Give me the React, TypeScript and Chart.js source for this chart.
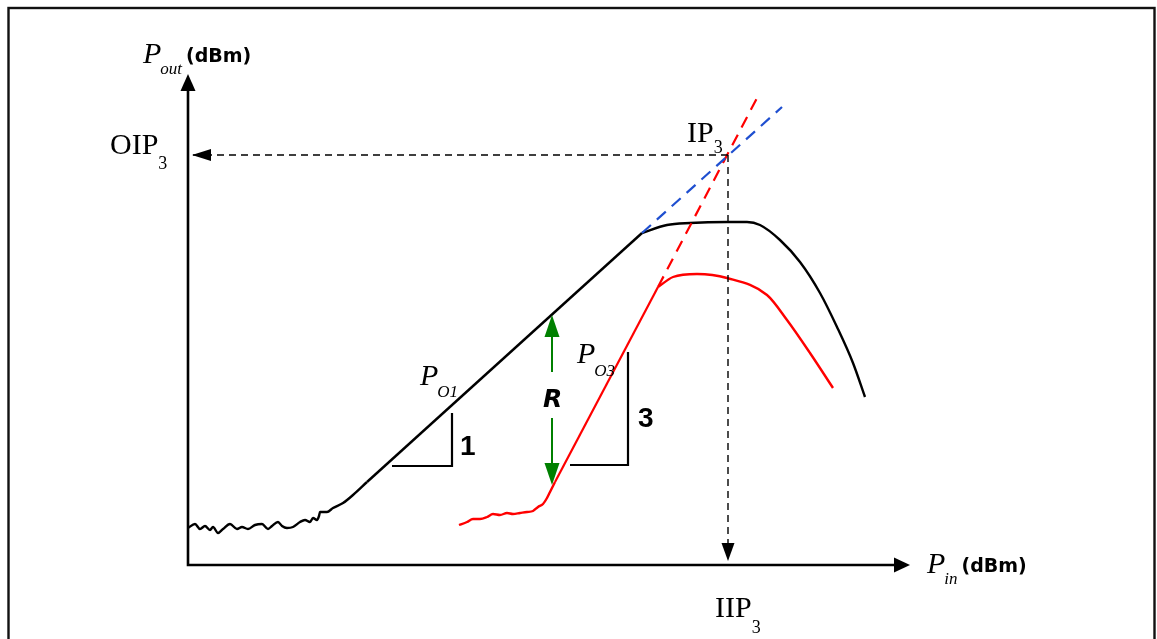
import React, { useEffect, useRef } from "react";
import { Chart, registerables } from "chart.js";

Chart.register(...registerables);

type Pt = { x: number; y: number };

const WIDTH = 1157;
const HEIGHT = 639;

// Input power (x) and output power (y), in dBm relative to the axis origin.
const X_RANGE = [-18.8, 96.9];
const Y_RANGE = [-7.4, 56.5];
const X_AXIS_END = 72.2;
const Y_AXIS_END = 49.1;

// Fundamental output P_O1: noise floor, linear region (slope 1), compression
const fundNoise: Pt[] = [
  { x: 0, y: 3.7 }, { x: 0.7, y: 4.1 }, { x: 1.2, y: 3.6 }, { x: 1.7, y: 3.9 },
  { x: 2.2, y: 3.5 }, { x: 2.5, y: 3.8 }, { x: 3.0, y: 3.2 }, { x: 3.5, y: 3.6 },
  { x: 4.2, y: 4.1 }, { x: 4.9, y: 3.6 }, { x: 5.4, y: 3.8 }, { x: 6.0, y: 3.6 },
  { x: 6.7, y: 4.0 }, { x: 7.4, y: 4.1 }, { x: 8.0, y: 3.6 }, { x: 8.4, y: 3.9 },
  { x: 9.0, y: 4.3 }, { x: 9.4, y: 3.9 }, { x: 9.9, y: 3.7 }, { x: 10.5, y: 3.8 },
  { x: 11.2, y: 4.3 }, { x: 11.7, y: 4.5 }, { x: 12.2, y: 4.3 }, { x: 12.5, y: 4.7 },
  { x: 12.9, y: 4.5 }, { x: 13.1, y: 4.9 }, { x: 13.2, y: 5.3 }, { x: 13.9, y: 5.3 },
  { x: 14.5, y: 5.7 }, { x: 15.5, y: 6.2 }, { x: 16.5, y: 7.0 }, { x: 17.9, y: 8.3 },
];
const fundLinear: Pt[] = [{ x: 17.9, y: 8.3 }, { x: 45.4, y: 33.2 }];
const fundCompressed: Pt[] = [
  { x: 45.4, y: 33.2 }, { x: 47.9, y: 34.0 }, { x: 50.2, y: 34.2 }, { x: 53.9, y: 34.3 },
  { x: 55.9, y: 34.3 }, { x: 57.2, y: 34.0 }, { x: 59.2, y: 32.5 }, { x: 61.2, y: 30.3 },
  { x: 63.2, y: 27.2 }, { x: 64.9, y: 23.8 }, { x: 66.5, y: 20.2 }, { x: 67.7, y: 16.8 },
];
const fundExtrapolated: Pt[] = [{ x: 45.4, y: 33.2 }, { x: 59.4, y: 45.8 }];

// Third-order intermodulation output P_O3 (slope 3)
const im3Noise: Pt[] = [
  { x: 27.1, y: 4.0 }, { x: 27.9, y: 4.3 }, { x: 28.5, y: 4.6 }, { x: 29.2, y: 4.6 },
  { x: 29.9, y: 4.8 }, { x: 30.5, y: 5.1 }, { x: 31.2, y: 5.0 }, { x: 31.9, y: 5.2 },
  { x: 32.5, y: 5.1 }, { x: 33.2, y: 5.2 }, { x: 33.9, y: 5.3 }, { x: 34.5, y: 5.4 },
  { x: 35.0, y: 5.8 }, { x: 35.5, y: 6.1 }, { x: 35.9, y: 6.7 }, { x: 36.2, y: 7.3 },
  { x: 36.7, y: 8.3 },
];
const im3Linear: Pt[] = [{ x: 36.7, y: 8.3 }, { x: 47.0, y: 27.8 }];
const im3Compressed: Pt[] = [
  { x: 47.0, y: 27.8 }, { x: 48.5, y: 28.8 }, { x: 50.9, y: 29.1 }, { x: 53.9, y: 28.7 },
  { x: 57.9, y: 27.0 }, { x: 59.9, y: 24.5 }, { x: 62.2, y: 21.2 }, { x: 64.5, y: 17.7 },
];
const im3Extrapolated: Pt[] = [{ x: 47.0, y: 27.8 }, { x: 56.9, y: 46.7 }];

// Third-order intercept point and its projections onto the axes
const ip3: Pt = { x: 54.0, y: 41.0 };
const oip3Guide: Pt[] = [ip3, { x: 0.4, y: 41.0 }];
const iip3Guide: Pt[] = [ip3, { x: 54.0, y: 0.4 }];

// Slope markers
const slopeOneTriangle: Pt[] = [{ x: 20.4, y: 9.9 }, { x: 26.4, y: 9.9 }, { x: 26.4, y: 15.2 }];
const slopeThreeTriangle: Pt[] = [{ x: 38.2, y: 10.0 }, { x: 44.0, y: 10.0 }, { x: 44.0, y: 21.3 }];

// Spacing R between P_O1 and P_O3
const rangeArrow = { x: 36.4, top: 25.0, bottom: 8.0, gapTop: 19.3, gapBottom: 14.7 };

type Label = {
  x: number;
  y: number;
  main: string;
  sub?: string;
  unit?: string;
  font: string;
  subFont?: string;
  subDy?: number;
  subDx?: number;
};

const SERIF = "'Liberation Serif', 'Times New Roman', serif";
const SANS = "'DejaVu Sans', sans-serif";

const labels: Label[] = [
  { x: -4.5, y: 50.2, main: "P", sub: "out", unit: "(dBm)", font: `italic 30px ${SERIF}`, subFont: `italic 17px ${SERIF}`, subDy: 11, subDx: -1 },
  { x: -7.8, y: 41.1, main: "OIP", sub: "3", font: `30px ${SERIF}`, subFont: `18px ${SERIF}`, subDy: 15 },
  { x: 49.9, y: 42.3, main: "IP", sub: "3", font: `30px ${SERIF}`, subFont: `18px ${SERIF}`, subDy: 11 },
  { x: 52.7, y: -5.2, main: "IIP", sub: "3", font: `30px ${SERIF}`, subFont: `18px ${SERIF}`, subDy: 16 },
  { x: 23.2, y: 18.0, main: "P", sub: "O1", font: `italic 30px ${SERIF}`, subFont: `italic 17px ${SERIF}`, subDy: 12, subDx: -1 },
  { x: 38.9, y: 20.2, main: "P", sub: "O3", font: `italic 30px ${SERIF}`, subFont: `italic 17px ${SERIF}`, subDy: 13, subDx: -1 },
  { x: 73.9, y: -0.8, main: "P", sub: "in", unit: "(dBm)", font: `italic 30px ${SERIF}`, subFont: `italic 17px ${SERIF}`, subDy: 11, subDx: -1 },
  { x: 35.5, y: 15.8, main: "R", font: `bold italic 25px ${SANS}` },
  { x: 27.2, y: 11.0, main: "1", font: `bold 28px 'Liberation Sans', sans-serif` },
  { x: 45.0, y: 13.8, main: "3", font: `bold 28px 'Liberation Sans', sans-serif` },
];

const arrowHead = (
  ctx: CanvasRenderingContext2D,
  tipX: number,
  tipY: number,
  dx: number,
  dy: number,
  length: number,
  half: number,
  color: string
) => {
  const bx = tipX - dx * length;
  const by = tipY - dy * length;
  ctx.beginPath();
  ctx.moveTo(tipX, tipY);
  ctx.lineTo(bx - dy * half, by + dx * half);
  ctx.lineTo(bx + dy * half, by - dx * half);
  ctx.closePath();
  ctx.fillStyle = color;
  ctx.fill();
};

const diagramPlugin = {
  id: "ip3Diagram",
  beforeDraw(chart: Chart) {
    const { ctx } = chart;
    ctx.save();
    ctx.fillStyle = "#ffffff";
    ctx.fillRect(0, 0, chart.width, chart.height);
    ctx.strokeStyle = "#111111";
    ctx.lineWidth = 2.4;
    ctx.strokeRect(8.5, 8, chart.width - 2.5 - 8.5, chart.height + 40);
    ctx.restore();
  },
  afterDatasetsDraw(chart: Chart) {
    const { ctx } = chart;
    const sx = chart.scales.x;
    const sy = chart.scales.y;
    const px = (v: number) => sx.getPixelForValue(v);
    const py = (v: number) => sy.getPixelForValue(v);
    ctx.save();

    // Axes
    const ox = px(0);
    const oy = py(0);
    const xEnd = px(X_AXIS_END);
    const yEnd = py(Y_AXIS_END);
    ctx.strokeStyle = "#000";
    ctx.lineWidth = 2.6;
    ctx.beginPath();
    ctx.moveTo(ox, yEnd + 8);
    ctx.lineTo(ox, oy);
    ctx.lineTo(xEnd - 8, oy);
    ctx.stroke();
    arrowHead(ctx, ox, yEnd, 0, -1, 17, 7.5, "#000");
    arrowHead(ctx, xEnd, oy, 1, 0, 16, 7.5, "#000");

    // Guide arrowheads onto the axes
    arrowHead(ctx, px(oip3Guide[1].x), py(oip3Guide[1].y), -1, 0, 19, 6, "#000");
    arrowHead(ctx, px(iip3Guide[1].x), py(iip3Guide[1].y), 0, 1, 18, 6.5, "#000");

    // R double arrow
    const gx = px(rangeArrow.x);
    const gTop = py(rangeArrow.top);
    const gBot = py(rangeArrow.bottom);
    ctx.strokeStyle = "#008000";
    ctx.lineWidth = 2;
    ctx.beginPath();
    ctx.moveTo(gx, gTop + 15);
    ctx.lineTo(gx, py(rangeArrow.gapTop));
    ctx.moveTo(gx, py(rangeArrow.gapBottom));
    ctx.lineTo(gx, gBot - 15);
    ctx.stroke();
    arrowHead(ctx, gx, gTop, 0, -1, 22, 7.5, "#008000");
    arrowHead(ctx, gx, gBot, 0, 1, 22, 7.5, "#008000");

    // Labels
    ctx.fillStyle = "#000";
    ctx.textBaseline = "alphabetic";
    ctx.textAlign = "left";
    for (const l of labels) {
      const lx = px(l.x);
      const ly = py(l.y);
      ctx.font = l.font;
      ctx.fillText(l.main, lx, ly);
      let cursor = lx + ctx.measureText(l.main).width;
      if (l.sub) {
        ctx.font = l.subFont || l.font;
        const sxp = cursor + (l.subDx || 0);
        ctx.fillText(l.sub, sxp, ly + (l.subDy || 0));
        cursor = sxp + ctx.measureText(l.sub).width;
      }
      if (l.unit) {
        ctx.font = `bold 19px ${SANS}`;
        ctx.fillText(l.unit, cursor + 4, ly - 1);
      }
    }
    ctx.restore();
  },
};

const curve = (data: Pt[], color: string, width: number, smooth: boolean, dash: number[] = []) => ({
  data,
  showLine: true,
  borderColor: color,
  backgroundColor: color,
  borderWidth: width,
  borderDash: dash,
  pointRadius: 0,
  pointHoverRadius: 0,
  fill: false,
  tension: 0,
  cubicInterpolationMode: smooth ? ("monotone" as const) : ("default" as const),
  clip: false as const,
});

export default function App() {
  const canvasRef = useRef<HTMLCanvasElement | null>(null);

  useEffect(() => {
    const canvas = canvasRef.current;
    if (!canvas) return;
    const chart = new Chart(canvas, {
      type: "scatter",
      data: {
        datasets: [
          curve(oip3Guide, "#000", 1.4, false, [7, 5]),
          curve(iip3Guide, "#000", 1.4, false, [7, 5]),
          curve(fundExtrapolated, "#1f4fd0", 2.2, false, [12, 8]),
          curve(im3Extrapolated, "#ff0000", 2.2, false, [12, 8]),
          curve(fundNoise, "#000", 2.4, true),
          curve(fundLinear, "#000", 2.4, false),
          curve(fundCompressed, "#000", 2.4, true),
          curve(im3Noise, "#ff0000", 2.4, true),
          curve(im3Linear, "#ff0000", 2.2, false),
          curve(im3Compressed, "#ff0000", 2.4, true),
          curve(slopeOneTriangle, "#000", 2.2, false),
          curve(slopeThreeTriangle, "#000", 2.2, false),
        ],
      },
      options: {
        animation: false,
        responsive: false,
        events: [],
        layout: { padding: 0 },
        plugins: { legend: { display: false }, tooltip: { enabled: false } },
        scales: {
          x: { type: "linear", min: X_RANGE[0], max: X_RANGE[1], display: false },
          y: { type: "linear", min: Y_RANGE[0], max: Y_RANGE[1], display: false },
        },
      },
      plugins: [diagramPlugin],
    });
    return () => chart.destroy();
  }, []);

  return (
    <div style={{ position: "absolute", left: 0, top: 0, width: WIDTH, height: HEIGHT, background: "#fff" }}>
      <canvas ref={canvasRef} width={WIDTH} height={HEIGHT} style={{ display: "block", width: WIDTH, height: HEIGHT }} />
    </div>
  );
}
